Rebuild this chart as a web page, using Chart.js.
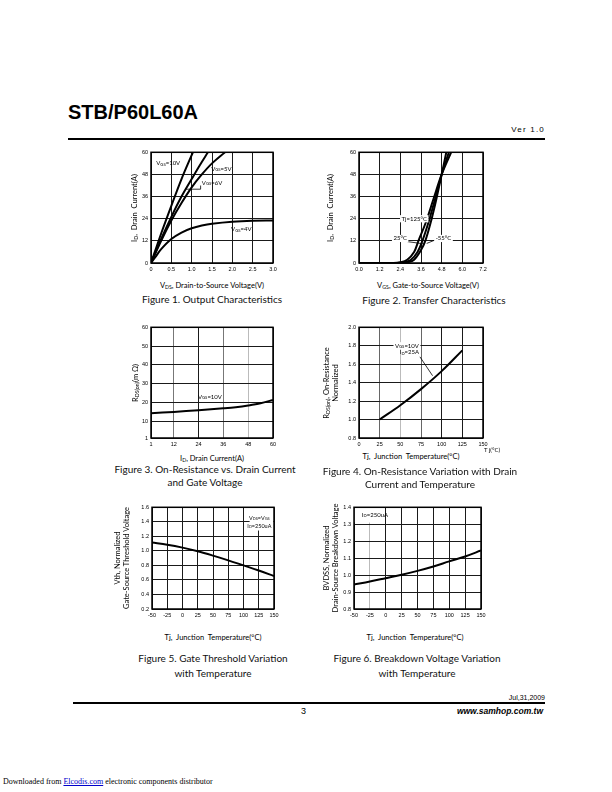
<!DOCTYPE html>
<html>
<head>
<meta charset="utf-8">
<script src="https://cdn.jsdelivr.net/npm/chart.js@4.4.0/dist/chart.umd.min.js"></script>
<style>
body { margin:0; width:612px; height:792px; position:relative; background:#fff; overflow:hidden;
       font-family:"Liberation Sans", Arial, sans-serif; color:#000; }
.abs { position:absolute; white-space:nowrap; line-height:1; }
canvas { position:absolute; }
.cap { font-family:Lato, sans-serif; font-size:10px; color:#111; transform:translateX(-50%); text-align:center; }
.axt { font-family:Lato, sans-serif; font-size:7.5px; transform:translateX(-50%); }
.yt { font-family:Lato, sans-serif; font-size:7.5px; transform:translate(-50%,-50%) rotate(-90deg); text-align:center; line-height:1.2; }
sub { font-size:70%; vertical-align:-1px; }
</style>
</head>
<body>

<div class="abs" style="left:68px;top:102px;font-size:20px;font-weight:bold;">STB/P60L60A</div>
<div class="abs" style="right:67px;top:126px;font-size:8px;letter-spacing:1.2px;">Ver 1.0</div>
<div class="abs" style="left:68px;top:138px;width:477px;height:2px;background:#000;"></div>

<canvas id="c1"></canvas>
<canvas id="c2"></canvas>
<canvas id="c3"></canvas>
<canvas id="c4"></canvas>
<canvas id="c5"></canvas>
<canvas id="c6"></canvas>

<!-- figure 1 -->
<div class="abs yt" style="left:135px;top:208px;">I<sub>D</sub>,&nbsp; Drain&nbsp; Current(A)</div>
<div class="abs axt" style="left:212px;top:282px;">V<sub>DS</sub>, Drain-to-Source Voltage(V)</div>
<div class="abs cap" style="left:212px;top:294px;">Figure 1. Output Characteristics</div>
<!-- figure 2 -->
<div class="abs yt" style="left:331px;top:208px;">I<sub>D</sub>,&nbsp; Drain&nbsp; Current(A)</div>
<div class="abs axt" style="left:428px;top:282px;">V<sub>GS</sub>, Gate-to-Source Voltage(V)</div>
<div class="abs cap" style="left:434px;top:295px;">Figure 2. Transfer Characteristics</div>
<!-- figure 3 -->
<div class="abs yt" style="left:136px;top:383px;">R<sub>DS(on)</sub>(m &Omega;)</div>
<div class="abs axt" style="left:212px;top:455px;">I<sub>D</sub>, Drain Current(A)</div>
<div class="abs cap" style="left:205px;top:463px;line-height:1.3;">Figure 3. On-Resistance vs. Drain Current<br>and Gate Voltage</div>
<!-- figure 4 -->
<div class="abs yt" style="left:331px;top:383px;">R<sub>DS(on)</sub>, On-Resistance<br>Normalized</div>
<div class="abs axt" style="left:411px;top:453px;">Tj,&nbsp; Junction&nbsp; Temperature(&deg;C)</div>
<div class="abs" style="left:484px;top:447px;font-size:6px;font-family:Lato,sans-serif;">T j(&deg;C)</div>
<div class="abs cap" style="left:420px;top:465px;line-height:1.3;">Figure 4. On-Resistance Variation with Drain<br>Current and Temperature</div>
<!-- figure 5 -->
<div class="abs yt" style="left:122px;top:558px;">Vth, Normalized<br>Gate-Source Threshold Voltage</div>
<div class="abs axt" style="left:213px;top:634px;">Tj,&nbsp; Junction&nbsp; Temperature(&deg;C)</div>
<div class="abs cap" style="left:213px;top:651px;line-height:1.5;">Figure 5. Gate Threshold Variation<br>with Temperature</div>
<!-- figure 6 -->
<div class="abs yt" style="left:331px;top:558px;">BVDSS, Normalized<br>Drain-Source Breakdown Voltage</div>
<div class="abs axt" style="left:415px;top:634px;">Tj,&nbsp; Junction&nbsp; Temperature(&deg;C)</div>
<div class="abs cap" style="left:417px;top:651px;line-height:1.5;">Figure 6. Breakdown Voltage Variation<br>with Temperature</div>

<div class="abs" style="right:67px;top:694px;font-size:7px;">Jul,31,2009</div>
<div class="abs" style="left:73px;top:702px;width:472px;height:2px;background:#000;"></div>
<div class="abs" style="left:301px;top:707px;font-size:9px;">3</div>
<div class="abs" style="right:69px;top:707px;font-size:8.5px;font-weight:bold;font-style:italic;">www.samhop.com.tw</div>
<div class="abs" style="left:3px;top:778px;font-size:8px;font-family:'Liberation Serif',serif;">Downloaded from <span style="color:#00c;text-decoration:underline;">Elcodis.com</span> electronic components distributor</div>

<script>
// ---- Figure 1: output characteristics (VDS V, ID A)
const f1XTicks = [0, 0.5, 1.0, 1.5, 2.0, 2.5, 3.0];
const f1XLabels = ['0', '0.5', '1.0', '1.5', '2.0', '2.5', '3.0'];
const f1YTicks = [0, 12, 24, 36, 48, 60];
const vds10 = [0, 0.25, 0.5, 0.75, 1.03];
const id10 = [0, 16, 31, 45.5, 60];
const vds6 = [0, 0.25, 0.5, 0.75, 1.0, 1.2, 1.4];
const id6 = [0, 13, 25, 36, 45.5, 53, 60];
const vds5 = [0, 0.25, 0.5, 0.75, 1.0, 1.25, 1.5, 1.82];
const id5 = [0, 12, 23, 32.5, 41, 48, 54, 60];
const vds4 = [0, 0.1, 0.25, 0.5, 0.75, 1.0, 1.25, 1.5, 2.0, 2.5, 3.0];
const id4 = [0, 3, 7.5, 13, 16.5, 18.8, 20.3, 21.3, 22.4, 22.9, 23];

// ---- Figure 2: transfer characteristics (VGS V, ID A)
const f2XTicks = [0, 1.2, 2.4, 3.6, 4.8, 6.0, 7.2];
const f2XLabels = ['0.0', '1.2', '2.4', '3.6', '4.8', '6.0', '7.2'];
const f2YTicks = [0, 12, 24, 36, 48, 60];
const vgs125 = [0, 2.0, 2.4, 2.8, 3.2, 3.45, 3.9, 4.3, 4.8, 5.35];
const idT125 = [0, 0, 0.4, 1.8, 6, 12, 22.5, 34, 48, 60];
const vgs25 = [0, 2.2, 2.6, 3.0, 3.4, 3.68, 4.05, 4.4, 4.8, 5.22];
const idT25 = [0, 0, 0.3, 1.6, 6, 12, 22.5, 34, 48, 60];
const vgsM55 = [0, 2.4, 2.8, 3.2, 3.6, 3.85, 4.15, 4.5, 4.8, 5.07];
const idTM55 = [0, 0, 0.3, 1.8, 7, 12, 21.5, 35, 48, 60];

// ---- Figure 3: on-resistance vs drain current (ID A, mOhm)
const f3XTicks = [1, 12, 24, 36, 48, 60];
const f3YTicks = [1, 10, 20, 30, 40, 50, 60];
const f3Id = [1, 12, 24, 36, 42, 48, 54, 60];
const f3Rds = [14.2, 14.9, 15.8, 16.8, 17.4, 18.3, 19.5, 21.3];

// ---- Figure 4: normalized on-resistance vs Tj
const f4XTicks = [0, 25, 50, 75, 100, 125, 150];
const f4YTicks = [0.8, 1.0, 1.2, 1.4, 1.6, 1.8, 2.0];
const f4Tj = [25, 50, 75, 100, 125];
const f4Rds = [1.0, 1.155, 1.33, 1.525, 1.75];

// ---- Figure 5: gate threshold vs Tj
const tjTicks = [-50, -25, 0, 25, 50, 75, 100, 125, 150];
const f5YTicks = [0.2, 0.4, 0.6, 0.8, 1.0, 1.2, 1.4, 1.6];
const f5Tj = [-50, -25, 0, 25, 50, 75, 100, 125, 150];
const f5Vth = [1.115, 1.085, 1.045, 0.995, 0.935, 0.87, 0.80, 0.73, 0.655];

// ---- Figure 6: breakdown voltage vs Tj
const f6YTicks = [0.8, 0.9, 1.0, 1.1, 1.2, 1.3, 1.4];
const f6Tj = [-50, -25, 0, 25, 50, 75, 100, 125, 150];
const f6Bv = [0.944, 0.962, 0.982, 1.002, 1.025, 1.051, 1.081, 1.11, 1.145];

const FONT = 'Lato, sans-serif';
const pts = (xs, ys) => xs.map((x, i) => ({x: x, y: ys[i]}));

// text notes drawn on top of the plot, placed in data units
const notesPlugin = {
    id: 'notes',
    afterDatasetsDraw(chart) {
        const notes = chart.options.plugins.notes.items || [];
        const c = chart.ctx, sx = chart.scales.x, sy = chart.scales.y;
        c.save();
        notes.forEach(n => {
            if (n.box) {
                const x1 = sx.getPixelForValue(n.box[0]), y1 = sy.getPixelForValue(n.box[1]);
                const x2 = sx.getPixelForValue(n.box[2]), y2 = sy.getPixelForValue(n.box[3]);
                c.fillStyle = '#fff';
                c.fillRect(Math.min(x1, x2), Math.min(y1, y2), Math.abs(x2 - x1), Math.abs(y2 - y1));
            }
            if (n.line) {
                c.strokeStyle = '#000';
                c.lineWidth = 0.8;
                c.beginPath();
                c.moveTo(sx.getPixelForValue(n.line[0]), sy.getPixelForValue(n.line[1]));
                for (let i = 2; i < n.line.length; i += 2) {
                    c.lineTo(sx.getPixelForValue(n.line[i]), sy.getPixelForValue(n.line[i + 1]));
                }
                c.stroke();
            }
            if (n.t) {
                const size = n.size || 6;
                let w = 0;
                n.t.forEach(s => { c.font = (s[1] ? size * 0.7 : size) + 'px ' + FONT; w += c.measureText(s[0]).width; });
                let px = sx.getPixelForValue(n.x);
                const py = sy.getPixelForValue(n.y);
                if (n.align === 'center') px -= w / 2;
                if (n.bg) {
                    c.fillStyle = '#fff';
                    c.fillRect(px - 1.5, py - size * 0.6, w + 3, size * 1.2);
                }
                c.fillStyle = '#000';
                c.textBaseline = 'middle';
                n.t.forEach(s => {
                    c.font = (s[1] ? size * 0.7 : size) + 'px ' + FONT;
                    c.fillText(s[0], px, py + (s[1] ? 1 : 0));
                    px += c.measureText(s[0]).width;
                });
            }
        });
        c.restore();
    }
};

const framePlugin = {
    id: 'frame',
    afterDatasetsDraw(chart) {
        const a = chart.chartArea, c = chart.ctx;
        c.save();
        c.strokeStyle = '#000';
        c.lineWidth = 1.5;
        c.strokeRect(a.left, a.top, a.right - a.left, a.bottom - a.top);
        c.restore();
    }
};

function plot(id, box, series, xs, ys, notes) {
    const cv = document.getElementById(id);
    const padL = 28, padT = 6, padR = 14, padB = 14;
    const W = box.w + padL + padR, H = box.h + padT + padB;
    cv.width = W; cv.height = H;
    cv.style.left = (box.l - padL) + 'px';
    cv.style.top = (box.t - padT) + 'px';
    cv.style.width = W + 'px';
    cv.style.height = H + 'px';

    const axis = (a, fit) => ({
        type: 'linear',
        min: a.ticks[0],
        max: a.ticks[a.ticks.length - 1],
        afterBuildTicks: s => { s.ticks = a.ticks.map(v => ({value: v})); },
        afterFit: fit,
        grid: {
            color: ctx => (a.gray && ctx.tick && a.gray[ctx.tick.value]) || '#1a1a1a',
            lineWidth: 1,
            drawTicks: false
        },
        border: {display: false},
        ticks: {
            autoSkip: false,
            maxRotation: 0,
            padding: a.pad || 3,
            color: '#000',
            font: {family: '"Liberation Sans", Arial, sans-serif', size: 5.5},
            callback: (v, i) => a.labels ? a.labels[i] : String(v)
        }
    });

    return new Chart(cv, {
        type: 'scatter',
        data: {
            datasets: series.map(s => ({
                data: s,
                showLine: true,
                borderColor: '#000',
                borderWidth: 2,
                pointRadius: 0,
                tension: 0.35,
                fill: false
            }))
        },
        options: {
            responsive: false,
            animation: false,
            events: [],
            layout: {padding: {top: padT, right: padR, left: 0, bottom: 0}},
            scales: {
                x: axis(xs, s => { s.height = padB; }),
                y: axis(ys, s => { s.width = padL; })
            },
            plugins: {
                legend: {display: false},
                tooltip: {enabled: false},
                notes: {items: notes}
            }
        },
        plugins: [notesPlugin, framePlugin]
    });
}

const VGS = v => [['V'], ['GS', 1], [v]];

plot('c1', {l: 151, t: 152, w: 122, h: 111},
    [pts(vds10, id10), pts(vds6, id6), pts(vds5, id5), pts(vds4, id4)],
    {ticks: f1XTicks, labels: f1XLabels},
    {ticks: f1YTicks},
    [
        {x: 0.13, y: 54, t: VGS('=10V')},
        {x: 1.48, y: 51, t: VGS('=5V')},
        {x: 0.84, y: 40, line: [0.84, 40, 1.22, 40, 1.22, 42]},
        {x: 1.25, y: 43.3, t: VGS('=6V')},
        {x: 1.97, y: 18.2, t: VGS('=4V')}
    ]);

plot('c2', {l: 359, t: 152, w: 124, h: 111},
    [pts(vgs125, idT125), pts(vgs25, idT25), pts(vgsM55, idTM55)],
    {ticks: f2XTicks, labels: f2XLabels},
    {ticks: f2YTicks},
    [
        {x: 2.47, y: 24, t: [['Tj=125°C']], bg: true},
        {x: 2.8, y: 11.6, line: [2.8, 11.6, 3.74, 10.4]},
        {x: 4.4, y: 12.4, line: [4.4, 12.4, 3.93, 10.6]},
        {x: 2.0, y: 13.3, t: [['25°C']], bg: true},
        {x: 4.45, y: 13.3, t: [['-55°C']], bg: true}
    ]);

plot('c3', {l: 151, t: 327, w: 122, h: 111},
    [pts(f3Id, f3Rds)],
    {ticks: f3XTicks, gray: {12: '#777', 36: '#777', 48: '#bbb'}},
    {ticks: f3YTicks},
    [
        {x: 29.5, y: 22.8, t: VGS('=10V'), align: 'center'}
    ]);

plot('c4', {l: 359, t: 327, w: 124, h: 111},
    [pts(f4Tj, f4Rds)],
    {ticks: f4XTicks, gray: {25: '#666', 50: '#bbb', 75: '#666'}},
    {ticks: f4YTicks, labels: f4YTicks.map(v => v.toFixed(1))},
    [
        {x: 58, y: 1.8, t: VGS('=10V'), align: 'center', bg: true},
        {x: 61, y: 1.73, t: [['I'], ['D', 1], ['=25A']], align: 'center'},
        {x: 73.7, y: 1.68, line: [73.7, 1.68, 89, 1.475]}
    ]);

plot('c5', {l: 152, t: 507, w: 122, h: 102},
    [pts(f5Tj, f5Vth)],
    {ticks: tjTicks},
    {ticks: f5YTicks, labels: f5YTicks.map(v => v.toFixed(1))},
    [
        {box: [110, 1.6, 149, 1.28]},
        {x: 126, y: 1.45, t: [['V'], ['DS', 1], ['=V'], ['GS', 1]], align: 'center', size: 5.5},
        {x: 126, y: 1.34, t: [['I'], ['D', 1], ['=250uA']], align: 'center', size: 5.5}
    ]);

plot('c6', {l: 354, t: 507, w: 127, h: 102},
    [pts(f6Tj, f6Bv)],
    {ticks: tjTicks, gray: {'-25': '#bbb'}},
    {ticks: f6YTicks, labels: f6YTicks.map(v => v.toFixed(1))},
    [
        {box: [-49, 1.399, -2, 1.31]},
        {x: -17, y: 1.355, t: [['I'], ['D', 1], ['=250uA']], align: 'center'}
    ]);
</script>
</body>
</html>
